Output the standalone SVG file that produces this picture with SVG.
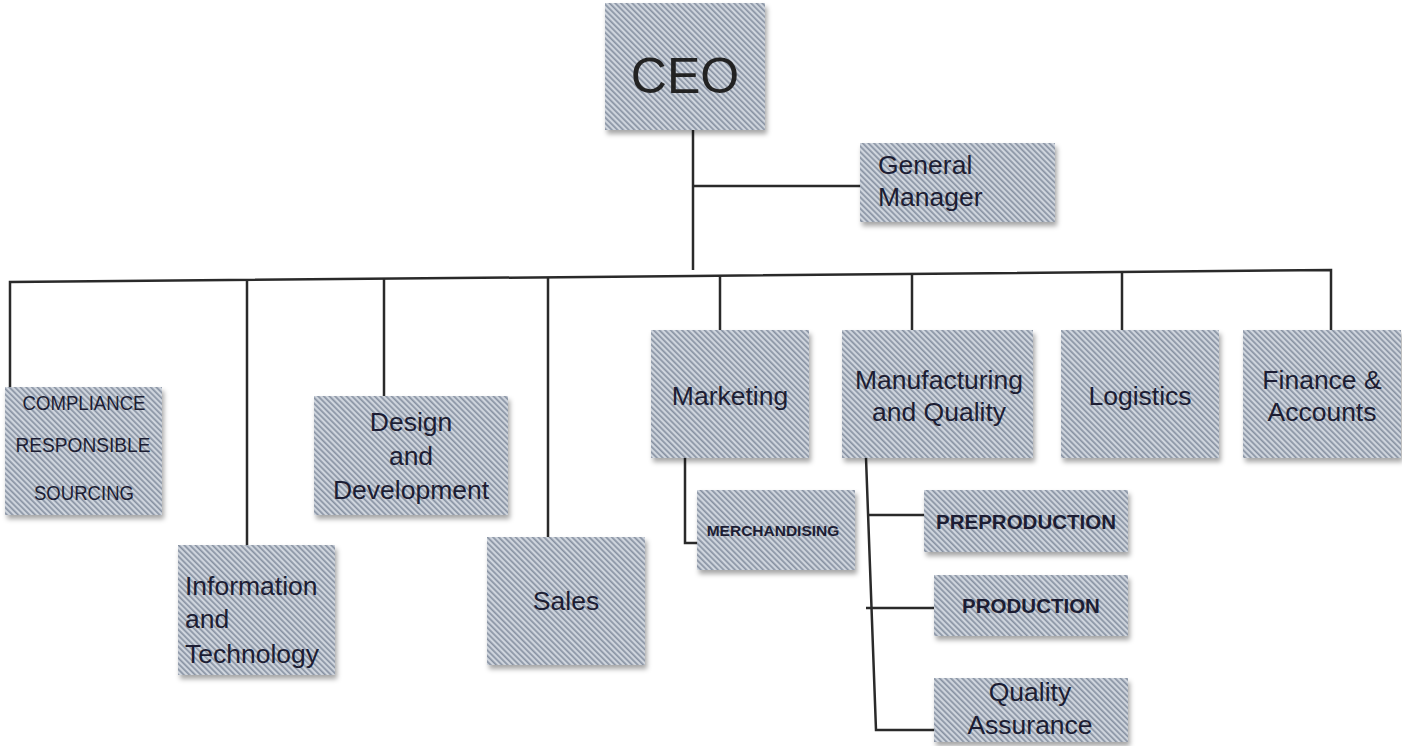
<svg xmlns="http://www.w3.org/2000/svg" width="1402" height="746" viewBox="0 0 1402 746">
<defs>
<pattern id="hatch" width="4" height="4" patternUnits="userSpaceOnUse" patternTransform="rotate(-45)">
<rect width="4" height="4" fill="#bcc4cf"/>
<rect x="0" y="0" width="1.5" height="4" fill="#8791a1"/>
<rect x="2.4" y="0" width="0.9" height="4" fill="#e4e8ee"/>
</pattern>
<filter id="sh" x="-10%" y="-10%" width="125%" height="130%">
<feDropShadow dx="2" dy="4" stdDeviation="2.5" flood-color="#000" flood-opacity="0.35"/>
</filter>
</defs>
<style>
.box{fill:url(#hatch);filter:url(#sh)}
.t{font-family:"Liberation Sans",Arial,sans-serif;fill:#1c1d33;font-size:26.5px}
.c{text-anchor:middle}
.b{font-weight:bold}
.ln{stroke:#2a2a2a;stroke-width:2.5;fill:none}
</style>
<rect width="1402" height="746" fill="#fff"/>
<g id="connectors">
<path class="ln" d="M693 130 V270"/>
<path class="ln" d="M693 186 H860"/>
<path class="ln" d="M10 387 V282 L693 276 L1331 270 V330"/>
<path class="ln" d="M247 280 V545"/>
<path class="ln" d="M384 279 V396"/>
<path class="ln" d="M548 278 V537"/>
<path class="ln" d="M720 275 V330"/>
<path class="ln" d="M912 273 V330"/>
<path class="ln" d="M1122 272 V330"/>
<path class="ln" d="M685 458 V543 H697"/>
<path class="ln" d="M866 458 L876 730 H934"/>
<path class="ln" d="M869 515 H924"/>
<path class="ln" d="M866 608 H934"/>
</g>
<g id="ceo"><rect class="box" x="605" y="3" width="160" height="127"/><text class="t c" x="685" y="93" style="font-size:50px;fill:#222">CEO</text></g>
<g id="gm"><rect class="box" x="860" y="143" width="195" height="79"/><text class="t" x="878" y="174">General</text><text class="t" x="878" y="206">Manager</text></g>
<g id="compliance"><rect class="box" x="5" y="387" width="157" height="128"/><text class="t c" x="84" y="410" style="font-size:20px" textLength="123" lengthAdjust="spacingAndGlyphs">COMPLIANCE</text><text class="t c" x="83" y="452" style="font-size:20px" textLength="135" lengthAdjust="spacingAndGlyphs">RESPONSIBLE</text><text class="t c" x="84" y="500" style="font-size:20px" textLength="100" lengthAdjust="spacingAndGlyphs">SOURCING</text></g>
<g id="it"><rect class="box" x="178" y="545" width="157" height="130"/><text class="t" x="185" y="595">Information</text><text class="t" x="185" y="628">and</text><text class="t" x="185" y="663">Technology</text></g>
<g id="design"><rect class="box" x="314" y="396" width="194" height="119"/><text class="t c" x="411" y="431">Design</text><text class="t c" x="411" y="465">and</text><text class="t c" x="411" y="499">Development</text></g>
<g id="sales"><rect class="box" x="487" y="537" width="158" height="128"/><text class="t c" x="566" y="610">Sales</text></g>
<g id="marketing"><rect class="box" x="651" y="330" width="158" height="128"/><text class="t c" x="730" y="405">Marketing</text></g>
<g id="merch"><rect class="box" x="697" y="490" width="158" height="80"/><text class="t c b" x="773" y="536" style="font-size:15.5px">MERCHANDISING</text></g>
<g id="mq"><rect class="box" x="842" y="330" width="191" height="128"/><text class="t c" x="939" y="389">Manufacturing</text><text class="t c" x="939" y="421">and Quality</text></g>
<g id="logistics"><rect class="box" x="1061" y="330" width="158" height="128"/><text class="t c" x="1140" y="405">Logistics</text></g>
<g id="finance"><rect class="box" x="1243" y="330" width="158" height="128"/><text class="t c" x="1322" y="389">Finance &amp;</text><text class="t c" x="1322" y="421">Accounts</text></g>
<g id="preproduction"><rect class="box" x="924" y="490" width="204" height="62"/><text class="t c b" x="1026" y="529" style="font-size:20.5px">PREPRODUCTION</text></g>
<g id="production"><rect class="box" x="934" y="575" width="194" height="61"/><text class="t c b" x="1031" y="613" style="font-size:20.5px">PRODUCTION</text></g>
<g id="qa"><rect class="box" x="934" y="678" width="194" height="64"/><text class="t c" x="1030" y="701">Quality</text><text class="t c" x="1030" y="734">Assurance</text></g>
</svg>
